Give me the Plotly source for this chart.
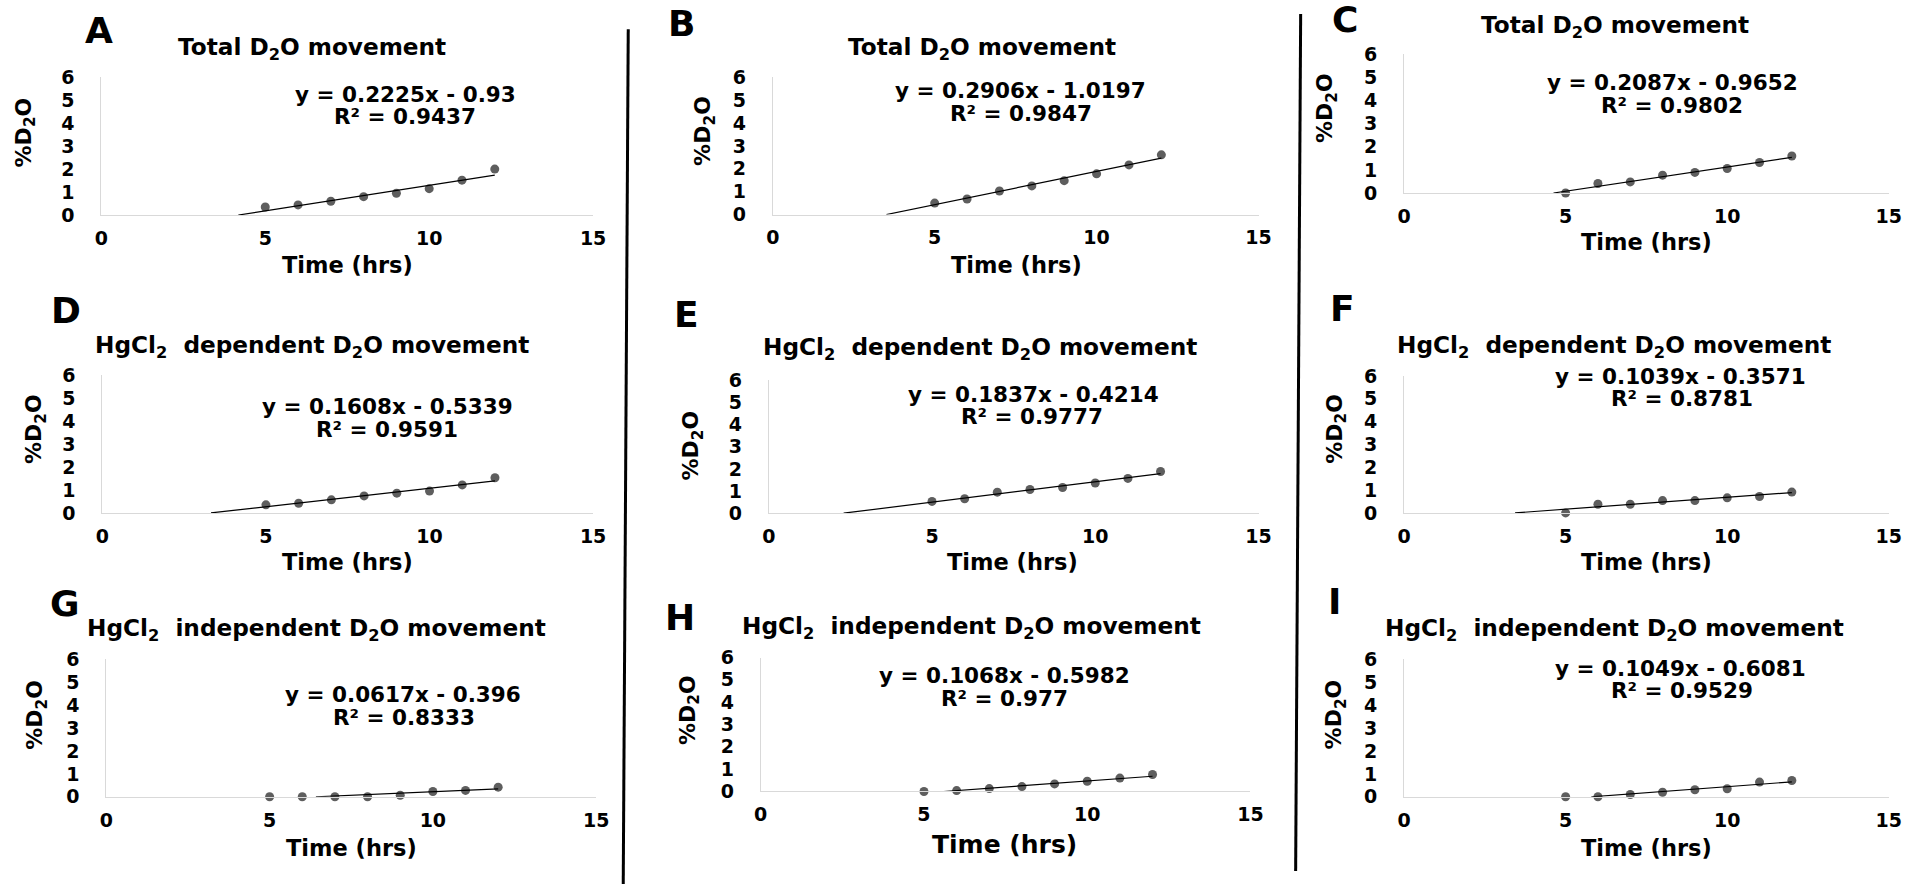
import numpy as np
import plotly.graph_objects as go

# Figure size in pixels
W, H = 1917, 884

# Placement frame: positions below are given in page pixels and are mapped
# onto the figure with a small inset (offset + scale) so the drawing lands
# where intended on the captured page.
OX, OY = 7.0, 9.9
SX, SY = 0.986, 0.973

# ---- data -------------------------------------------------------------
hours = [5, 6, 7, 8, 9, 10, 11, 12]
x_ticks = [0, 5, 10, 15]
y_ticks = [0, 1, 2, 3, 4, 5, 6]

panel_letters = ["A", "B", "C", "D", "E", "F", "G", "H", "I"]

title_total = "Total D<sub>2</sub>O movement"
title_dep = "HgCl<sub>2</sub>&nbsp; dependent D<sub>2</sub>O movement"
title_indep = "HgCl<sub>2</sub>&nbsp; independent D<sub>2</sub>O movement"
panel_titles = [title_total, title_total, title_total,
                title_dep, title_dep, title_dep,
                title_indep, title_indep, title_indep]

# %D2O readings per panel
d2o_A = [0.35, 0.44, 0.60, 0.80, 0.95, 1.15, 1.52, 2.00]
d2o_B = [0.50, 0.68, 1.03, 1.25, 1.48, 1.78, 2.17, 2.61]
d2o_C = [0.00, 0.41, 0.48, 0.77, 0.89, 1.06, 1.32, 1.60]
d2o_D = [0.35, 0.42, 0.57, 0.74, 0.86, 0.95, 1.22, 1.53]
d2o_E = [0.53, 0.65, 0.95, 1.07, 1.16, 1.36, 1.57, 1.88]
d2o_F = [0.00, 0.38, 0.38, 0.54, 0.54, 0.66, 0.72, 0.91]
d2o_G = [0.00, 0.00, 0.00, 0.00, 0.07, 0.23, 0.28, 0.42]
d2o_H = [0.00, 0.04, 0.13, 0.22, 0.34, 0.46, 0.60, 0.76]
d2o_I = [0.00, 0.00, 0.10, 0.20, 0.31, 0.35, 0.64, 0.71]
series = [d2o_A, d2o_B, d2o_C, d2o_D, d2o_E, d2o_F, d2o_G, d2o_H, d2o_I]

# Linear fits (slope, intercept, R^2)
slopes = [0.2225, 0.2906, 0.2087, 0.1608, 0.1837, 0.1039, 0.0617, 0.1068, 0.1049]
intercepts = [-0.93, -1.0197, -0.9652, -0.5339, -0.4214, -0.3571, -0.396, -0.5982, -0.6081]
r_squared = [0.9437, 0.9847, 0.9802, 0.9591, 0.9777, 0.8781, 0.8333, 0.977, 0.9529]

# ---- layout geometry (page pixels) -----------------------------------
# plot box: x at 0, x at 15, y at 0, y at 6
boxes = [
    (101, 591, 213.5, 76), (770, 1254, 213, 76), (1399, 1882, 191.5, 53),
    (102, 591, 510.7, 373.3), (766, 1254, 511, 378.3), (1399, 1882, 510.7, 374),
    (106, 594, 794, 656.7), (758, 1246, 788.7, 655), (1399, 1882, 794, 656.7),
]
letter_pos = [(99, 29), (679, 22), (1340, 18), (66, 309), (684, 313),
              (1338, 307), (65, 601), (678, 615), (1330, 599)]
title_pos = [(311, 47), (978, 47), (1609, 25), (311, 345), (976, 347),
             (1608, 345), (315, 627), (968, 625), (1609, 627)]
eq_pos = [((404, 93), (404, 115)), ((1017, 89), (1017, 112)), ((1666, 81), (1666, 104)),
          ((386, 405), (386, 427)), ((1030, 393), (1028, 415)), ((1674, 375), (1676, 397)),
          ((402, 692), (403, 715)), ((1001, 673), (1001, 696)), ((1674, 666), (1676, 688))]
xtitle_pos = [(346, 263), (1013, 263), (1641, 240), (346, 560), (1009, 560),
              (1641, 560), (350, 845), (1001, 842), (1641, 845)]
xtitle_size = [22.5, 22.5, 22.5, 22.5, 22.5, 22.5, 22.5, 25, 22.5]
ytitle_pos = [(25, 131), (702, 130), (1322, 107), (35, 427), (690, 443),
              (1331, 427), (37, 712), (687, 707), (1331, 712)]

FONT = "DejaVu Sans, Arial, sans-serif"
AXIS_GREY = "#d9d9d9"
MARKER_GREY = "#5e5e5e"


def px(x):
    return ((x - OX) / SX) / W


def py(y):
    return 1 - ((y - OY) / SY) / H


def bold(size):
    return dict(family=FONT, size=size, color="black", weight="bold")


fig = go.Figure()
annotations = []

for i in range(9):
    n = "" if i == 0 else str(i + 1)
    xref, yref = "x" + n, "y" + n
    m, b = slopes[i], intercepts[i]

    # measured points
    fig.add_trace(go.Scatter(
        x=hours, y=series[i], mode="markers", xaxis=xref, yaxis=yref,
        marker=dict(color=MARKER_GREY, size=9, line=dict(width=0)),
        cliponaxis=False, showlegend=False, hoverinfo="x+y"))

    # fitted trendline, starting where it crosses y = 0
    x_fit = np.array([max(0.0, -b / m), max(hours)])
    fig.add_trace(go.Scatter(
        x=x_fit, y=m * x_fit + b, mode="lines", xaxis=xref, yaxis=yref,
        line=dict(color="black", width=1.2), cliponaxis=False,
        showlegend=False, hoverinfo="skip"))

    x0, x1, y0, y1 = boxes[i]
    fig.update_layout({
        "xaxis" + n: dict(
            domain=[px(x0), px(x1)], range=[0, 15], anchor=yref,
            tickvals=x_ticks, showgrid=False, zeroline=False,
            showline=True, linecolor=AXIS_GREY, linewidth=1,
            ticks="", ticklabelstandoff=6, tickfont=bold(19)),
        "yaxis" + n: dict(
            domain=[py(y0), py(y1)], range=[0, 6], anchor=xref,
            tickvals=y_ticks, showgrid=False, zeroline=False,
            showline=True, linecolor=AXIS_GREY, linewidth=1,
            ticks="", ticklabelstandoff=22, tickfont=bold(19)),
    })

    def note(text, pos, size, **kw):
        annotations.append(dict(
            text=text, x=px(pos[0]), y=py(pos[1]), xref="paper", yref="paper",
            xanchor="center", yanchor="middle", showarrow=False,
            font=bold(size), **kw))

    note(panel_letters[i], letter_pos[i], 36)
    note(panel_titles[i], title_pos[i], 23.2)
    sign = "-" if b < 0 else "+"
    note(f"y = {m:g}x {sign} {abs(b):g}", eq_pos[i][0], 21.5)
    note(f"R² = {r_squared[i]:g}", eq_pos[i][1], 21.5)
    note("Time (hrs)", xtitle_pos[i], xtitle_size[i])
    note("%D<sub>2</sub>O", ytitle_pos[i], 22, textangle=-90)

# column separators
separators = [((626, 28), (621, 884)), ((1296, 13), (1291, 868))]
shapes = [dict(type="line", xref="paper", yref="paper",
               x0=px(a[0]), y0=py(a[1]), x1=px(c[0]), y1=py(c[1]),
               line=dict(color="black", width=3))
          for a, c in separators]

fig.update_layout(
    width=W, height=H, autosize=False,
    margin=dict(l=0, r=0, t=0, b=0),
    paper_bgcolor="white", plot_bgcolor="white",
    annotations=annotations, shapes=shapes,
)

fig.write_html("out.html", config={"displayModeBar": False})
